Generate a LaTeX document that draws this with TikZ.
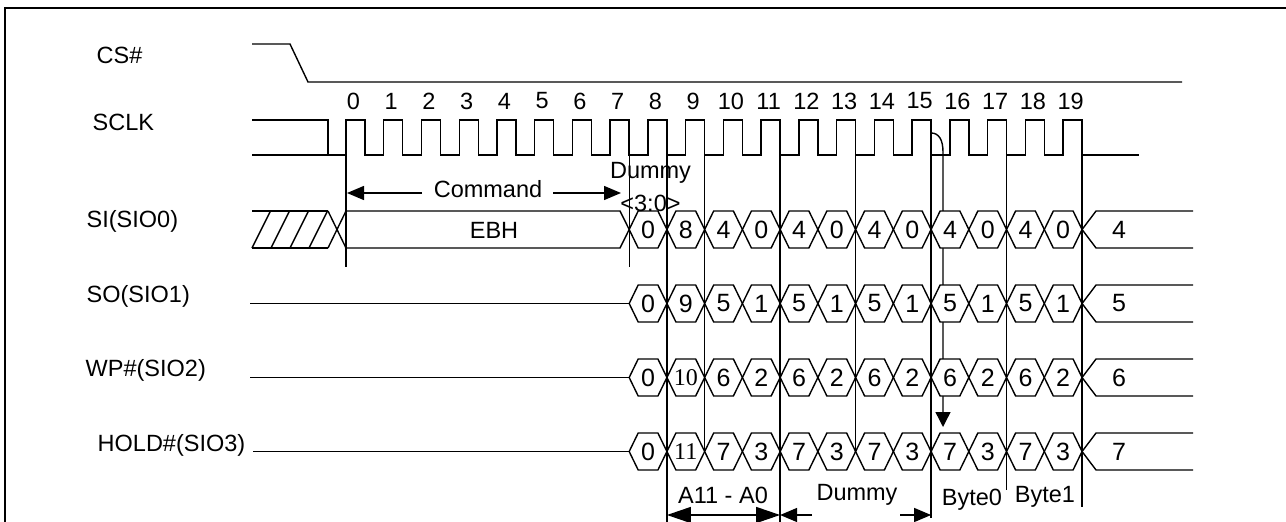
\documentclass[tikz,border=0pt]{standalone}
\usepackage{fontspec}
\setmainfont{Liberation Sans}
\newfontfamily\serifnum{Liberation Serif}
\usetikzlibrary{arrows.meta}
\begin{document}
\begin{tikzpicture}[x=1pt,y=-1pt, line width=1.4pt, line join=miter,
  lbl/.style={font=\fontsize{23.5}{28}\selectfont, anchor=west, inner sep=0pt},
  txt/.style={font=\fontsize{23.5}{28}\selectfont, inner sep=0pt},
  hxt/.style={font=\fontsize{25}{30}\selectfont, inner sep=0pt},
  clk/.style={font=\fontsize{23.5}{28}\selectfont, inner sep=0pt},
  hex/.style={draw, fill=white, line width=1.4pt},
  arr/.style={-{Triangle[length=17pt,width=14pt]}, line width=1.4pt},
  barr/.style={{Triangle[length=24pt,width=16pt]}-{Triangle[length=24pt,width=16pt]}, line width=1.4pt},
  ]
\useasboundingbox (0,0) rectangle (1286,522);
\draw[line width=1.8pt] (5,522) -- (5,8) -- (1286,8);

% signal names
\node[lbl] (lcs) at (96,55) {CS\#};
\node[lbl] (lclk) at (92,122) {SCLK};
\node[lbl] (lsi) at (86,221) {SI(SIO0)};
\node[lbl] (lso) at (86,296) {SO(SIO1)};
\node[lbl] (lwp) at (85,370) {WP\#(SIO2)};
\node[lbl] (lhold) at (97,445) {HOLD\#(SIO3)};

% CS#
\draw (252,44) -- (290,44) -- (308,82) -- (1182,82);

% SCLK
\draw (252,120) -- (328,120) -- (328,155);
\draw (252,155) \foreach \k in {0,...,19} { -- ({346+37.74*\k},155) -- ({346+37.74*\k},120) -- ({365+37.74*\k},120) -- ({365+37.74*\k},155) } -- (1139,155);
\foreach \k in {0,...,19} \node[clk] (n\k) at ({353.5+37.74*\k},101) {\k};

% curved arrow (behind hexagons)
\draw[-{Triangle[length=15pt,width=15pt]}] (931.1,133) .. controls (939,133) and (943,140) .. (943,152) -- (943,427);

% SI leading part
\draw (252,211) -- (328,211);
\draw (252,248) -- (328,248);
\foreach \a in {252,271,290,309} \draw (\a,248) -- ({\a+18.5},211);
\draw (328,211) -- (346,248);
\draw (328,248) -- (346,211);
\draw (346,211) -- (620,211) -- (629.2,229.5) -- (620,248) -- (346,248);
\node[txt] (ebh) at (494,230) {EBH};

% other leading lines
\draw (250,303.5) -- (629.2,303.5);
\draw (250,377.5) -- (629.2,377.5);
\draw (253,451.5) -- (629.2,451.5);

% hexagon cells
\foreach \c/\vals in {229.5/{0,8,4,0,4,0,4,0,4,0,4,0},
                      303.5/{0,9,5,1,5,1,5,1,5,1,5,1},
                      377.5/{0,{\serifnum\fontsize{24}{28}\selectfont\raisebox{-4pt}{10}},6,2,6,2,6,2,6,2,6,2},
                      451.5/{0,{\serifnum\fontsize{24}{28}\selectfont\raisebox{-4pt}{11}},7,3,7,3,7,3,7,3,7,3}} {
  \foreach \v [count=\j from 8] in \vals {
    \pgfmathsetmacro\bl{365+37.74*(\j-1)}
    \pgfmathsetmacro\br{365+37.74*\j}
    \draw[hex] (\bl,\c) -- ({\bl+9},{\c-18.5}) -- ({\br-9},{\c-18.5}) -- (\br,\c) -- ({\br-9},{\c+18.5}) -- ({\bl+9},{\c+18.5}) -- cycle;
    \node[hxt] at ({(\bl+\br)/2},\c) {\v};
  }
  \draw (1082.1,\c) -- (1096,{\c-18.5}) -- (1193,{\c-18.5});
  \draw (1082.1,\c) -- (1096,{\c+18.5}) -- (1193,{\c+18.5});
}
\node[hxt] (f4) at (1119,229.5) {4};
\node[hxt] (f5) at (1119,303.5) {5};
\node[hxt] (f6) at (1119,377.5) {6};
\node[hxt] (f7) at (1119,451.5) {7};

% vertical markers
\draw (346,155) -- (346,267);
\draw (629.2,155) -- (629.2,267);
\draw (666.9,155) -- (666.9,522);
\draw (704.7,155) -- (704.7,451.5);
\draw (780.1,155) -- (780.1,522);
\draw (855.6,155) -- (855.6,451.5);
\draw (931.1,155) -- (931.1,518);
\draw (1006.6,155) -- (1006.6,490);
\draw (1082.1,155) -- (1082.1,507);

% annotations
\node[txt] (cmd) at (488,189) {Command};
\draw[arr] (422,193) -- (347,193);
\draw[arr] (553,193) -- (621,193);
\node[txt] (dum1) at (650.5,173) {Dummy};
\node[txt] (dum2) at (650.5,203) {<3:0>};

\node[txt] (addr) at (723,495) {A11 - A0};
\draw[barr] (666.9,515) -- (780.1,515);
\node[txt] (dum3) at (857,495) {Dummy};
\draw[arr] (812,515) -- (780.1,515);
\draw[arr] (900,515) -- (931.1,515);
\node[txt] (b0) at (972,500) {Byte0};
\node[txt] (b1) at (1045,497) {Byte1};
\end{tikzpicture}
\end{document}
